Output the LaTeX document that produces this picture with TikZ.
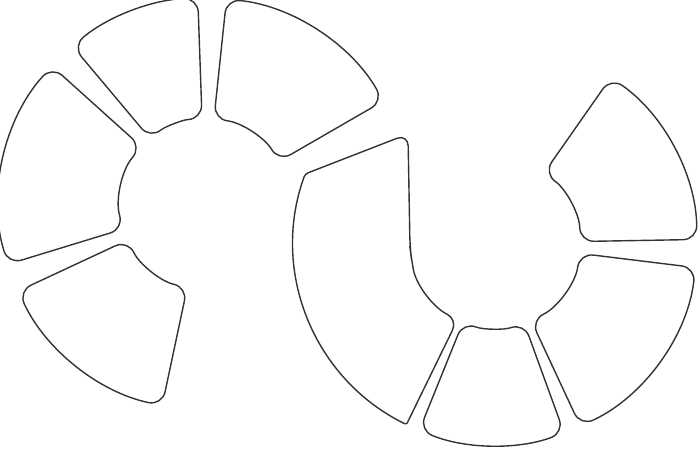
\documentclass[tikz,border=0pt]{standalone}
\usetikzlibrary{calc}
\begin{document}
\begin{tikzpicture}[x=1pt,y=1pt,piece/.style={draw=black!80,line width=1.4pt,rounded corners=14pt,fill=white}]
\useasboundingbox (0,0) rectangle (700,453);
\coordinate (L) at (205,249);
\coordinate (R) at (495,210);
\newcommand{\sect}[5]{\draw[piece] ($(#1)+(#2:#5)$) arc (#2:#3:#5) -- ($(#1)+(#3:#4)$) arc (#3:#2:#4) -- cycle;}
% left ring
\sect{L}{30}{84}{85}{206}
\sect{L}{92}{130}{85}{206}
\sect{L}{138}{197}{85}{206}
\sect{L}{205}{258}{85}{206}
% right ring
\sect{R}{248}{290}{85}{202}
\sect{R}{295}{353}{85}{202}
\sect{R}{1}{55}{85}{202}
\draw[piece] ($(R)+(244:202)$) [rounded corners=3pt] arc (244:160:202) [rounded corners=12pt] -- (408,319) -- (410,205) -- ($(R)+(190:85)$) arc (190:244:85) [rounded corners=2pt] -- cycle;
\end{tikzpicture}
\end{document}
